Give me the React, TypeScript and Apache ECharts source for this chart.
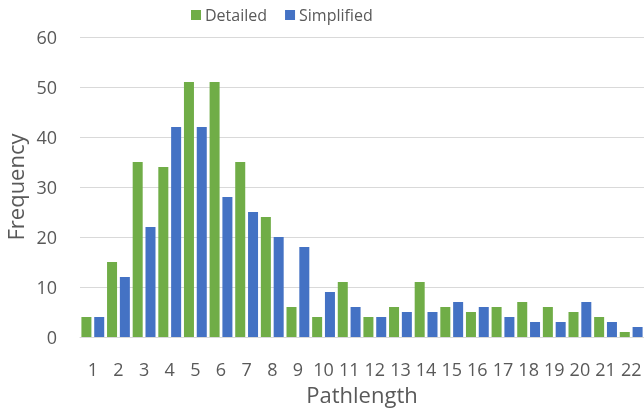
import React, { useEffect, useRef } from "react";
import * as echarts from "echarts";

const categories = ["1","2","3","4","5","6","7","8","9","10","11","12","13","14","15","16","17","18","19","20","21","22"];
const detailed = [4,15,35,34,51,51,35,24,6,4,11,4,6,11,6,5,6,7,6,5,4,1];
const simplified = [4,12,22,42,42,28,25,20,18,9,6,4,5,5,7,6,4,3,3,7,3,2];
const yTicks = { min: 0, max: 60, interval: 10 };

const FONT = "'Open Sans', 'Liberation Sans', sans-serif";
const TEXT = "#595959";

export default function App() {
  const ref = useRef<HTMLDivElement>(null);
  useEffect(() => {
    if (!ref.current) return;
    const chart = echarts.init(ref.current, undefined, { renderer: "svg" });
    chart.setOption({
      animation: false,
      textStyle: { fontFamily: FONT, color: TEXT },
      legend: {
        top: 2,
        left: 186,
        itemWidth: 10,
        itemHeight: 10,
        itemGap: 18,
        icon: "rect",
        textStyle: { fontFamily: FONT, color: TEXT, fontSize: 16, padding: [0, 0, 0, -1] },
        data: ["Detailed", "Simplified"],
      },
      grid: { left: 80, right: 0, top: 37, bottom: 71, outerBoundsMode: "none", containLabel: false },
      xAxis: {
        type: "category",
        data: categories,
        name: "Pathlength",
        nameLocation: "middle",
        nameGap: 42,
        nameTextStyle: { fontFamily: FONT, color: TEXT, fontSize: 22 },
        axisLine: { lineStyle: { color: "#D9D9D9", width: 1 } },
        axisTick: { show: false },
        axisLabel: { interval: 0, margin: 23, fontFamily: FONT, color: TEXT, fontSize: 18 },
      },
      yAxis: {
        type: "value",
        min: yTicks.min,
        max: yTicks.max,
        interval: yTicks.interval,
        name: "Frequency",
        nameLocation: "middle",
        nameGap: 50,
        nameTextStyle: { fontFamily: FONT, color: TEXT, fontSize: 22 },
        axisLine: { show: false },
        axisTick: { show: false },
        axisLabel: { margin: 23, fontFamily: FONT, color: TEXT, fontSize: 18 },
        splitLine: { lineStyle: { color: "#D9D9D9", width: 1 } },
      },
      series: [
        {
          name: "Detailed",
          type: "bar",
          data: detailed,
          itemStyle: { color: "#70AD47" },
          barGap: "28%",
          barCategoryGap: "11%",
        },
        {
          name: "Simplified",
          type: "bar",
          data: simplified,
          itemStyle: { color: "#4472C4" },
          barGap: "28%",
          barCategoryGap: "11%",
        },
      ],
    });
    return () => chart.dispose();
  }, []);
  return (
    <div
      ref={ref}
      style={{ position: "fixed", left: 0, top: 0, width: 644, height: 408 }}
    />
  );
}
